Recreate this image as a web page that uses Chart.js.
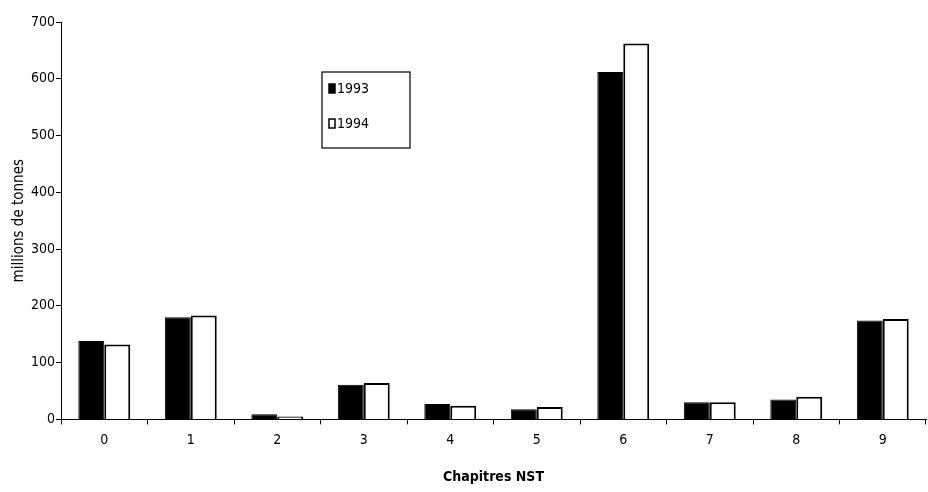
<!DOCTYPE html>
<html>
<head>
<meta charset="utf-8">
<script src="https://cdn.jsdelivr.net/npm/chart.js@4"></script>
<style>
  html, body { margin: 0; padding: 0; background: #fff; }
  #wrap { width: 928px; height: 492px; }
</style>
</head>
<body>
<div id="wrap"><canvas id="NstChart" width="928" height="492"></canvas></div>
<script>
const chapitres = ['0', '1', '2', '3', '4', '5', '6', '7', '8', '9'];
const tonnes1993 = [138, 180, 9, 61, 27, 18, 612, 30, 35, 174];
const tonnes1994 = [132, 183, 5, 64, 24, 22, 662, 30, 40, 177];
const yTicks = [0, 100, 200, 300, 400, 500, 600, 700];

const FONT = "'DejaVu Sans Condensed', 'Liberation Sans Narrow', 'Arial Narrow', sans-serif";

// legend box drawn by hand, like the original (box with two entries)
const boxLegend = {
  id: 'boxLegend',
  afterDraw(chart) {
    const ctx = chart.ctx;
    const x = 322, y = 72, w = 88, h = 76;
    ctx.save();
    ctx.strokeStyle = '#000';
    ctx.lineWidth = 1.2;
    ctx.strokeRect(x, y, w, h);
    ctx.font = '14px ' + FONT;
    ctx.textBaseline = 'middle';
    chart.data.datasets.forEach((ds, i) => {
      const ly = y + 17 + i * 35;
      ctx.fillStyle = ds.backgroundColor;
      ctx.fillRect(x + 7, ly - 5, 6, 9);
      ctx.strokeStyle = '#000';
      ctx.lineWidth = 1.5;
      ctx.strokeRect(x + 7, ly - 5, 6, 9);
      ctx.fillStyle = '#000';
      ctx.fillText(ds.label, x + 15, ly);
    });
    ctx.restore();
  }
};

const ctx = document.getElementById('NstChart').getContext('2d');
new Chart(ctx, {
  type: 'bar',
  data: {
    labels: chapitres,
    datasets: [{
      label: '1993',
      data: tonnes1993,
      backgroundColor: '#000',
      borderColor: '#000',
      borderWidth: 1,
      categoryPercentage: 0.6,
      barPercentage: 1.0
    }, {
      label: '1994',
      data: tonnes1994,
      backgroundColor: '#fff',
      borderColor: '#000',
      borderWidth: 2,
      categoryPercentage: 0.6,
      barPercentage: 1.0
    }]
  },
  options: {
    responsive: false,
    animation: false,
    layout: { padding: { left: 6, right: 2, top: 22, bottom: 2 } },
    plugins: {
      legend: { display: false },
      tooltip: { enabled: false }
    },
    scales: {
      x: {
        grid: { display: true, drawOnChartArea: false, color: '#000', tickLength: 5 },
        border: { color: '#000', width: 1 },
        ticks: { color: '#000', font: { family: FONT, size: 14 }, padding: 8 },
        title: {
          display: true, text: 'Chapitres NST', color: '#000',
          font: { family: FONT, size: 14, weight: 'bold' }, padding: { top: 12 }
        }
      },
      y: {
        min: 0, max: 700,
        afterBuildTicks: (axis) => { axis.ticks = yTicks.map(v => ({ value: v })); },
        grid: { display: true, drawOnChartArea: false, color: '#000', tickLength: 5 },
        border: { color: '#000', width: 1 },
        ticks: { color: '#000', font: { family: FONT, size: 14 }, padding: 1 },
        title: {
          display: true, text: 'millions de tonnes', color: '#000',
          font: { family: FONT, size: 15 }, padding: { bottom: 2 }
        }
      }
    }
  },
  plugins: [boxLegend]
});
</script>
</body>
</html>
